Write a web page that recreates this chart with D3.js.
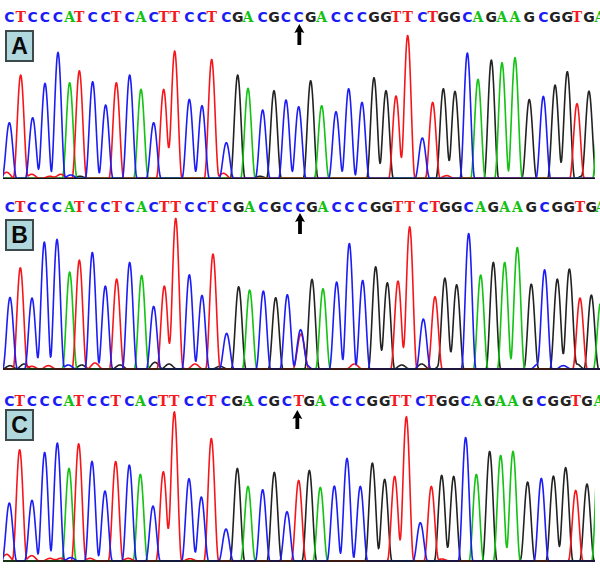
<!DOCTYPE html>
<html><head><meta charset="utf-8">
<script src="https://cdn.jsdelivr.net/npm/d3@7"></script>
<style>html,body{margin:0;padding:0;background:#fff}svg{display:block}</style>
</head><body><div id="chart"></div>
<script>
// Base calls, and apex position / apex signal read for each called peak.
const basesA = "CTCCCATCCTCACTTCCTCGACGCCGACCCGGTTCTGGCAGAAGCGGTGA";
const scansA = [28,62,98,135,174,209,238,278,317,349,389,423,461,491,524,568,606,635,679,713,744,788,822,858,896,932,965,1008,1046,1086,1122,1158,1188,1223,1267,1298,1330,1365,1402,1434,1474,1506,1545,1588,1630,1665,1702,1731,1767,1800];
const signalA = [167,310,182,285,378,287,323,290,220,287,310,267,167,267,382,237,218,357,107,310,270,205,263,235,215,293,218,200,269,228,302,263,247,429,121,228,269,261,376,297,355,347,362,232,246,276,320,224,260,300];

const basesB = "CTCCCATCCTCACTTCCTCGACGCCGACCCGGTTCTGGCAGAAGCGGTGA";
const scansB = [30,61,96,133,171,209,238,277,316,350,389,425,461,493,527,568,606,639,680,716,749,790,827,862,901,936,969,1010,1048,1088,1127,1162,1194,1229,1270,1305,1335,1370,1406,1442,1480,1514,1552,1594,1634,1672,1708,1740,1774,1802];
const signalB = [215,304,213,381,389,291,327,350,249,270,320,281,188,249,445,283,221,345,107,247,237,234,214,223,112,269,241,261,377,266,307,259,264,427,150,217,263,253,407,282,320,320,365,241,296,270,300,213,222,200];

const basesC = "CTCCCATCCTCACTTCCTCGACGCTGACCCGGTTCTGGCAGAAGCGGTGA";
const scansC = [28,59,96,134,172,207,236,276,315,347,388,421,459,490,523,567,604,634,678,712,744,788,823,861,896,928,961,1003,1041,1081,1117,1154,1184,1219,1261,1294,1325,1361,1397,1429,1469,1502,1539,1583,1624,1660,1697,1727,1761,1797];
const signalC = [174,334,182,326,354,278,352,299,210,299,288,260,165,268,448,247,192,368,96,278,224,214,266,148,242,272,221,225,308,224,292,245,254,431,115,224,257,254,371,260,329,317,329,231,248,251,280,212,231,370];

// Small uncalled peaks near the baseline (the B entry of 105 is the T under the mixed C/T base).
const minorBasesA = "TTTTCGTGTGGG";
const minorScansA = [20,95,150,182,212,240,670,780,1340,1580,1680,1750];
const minorSignalA = [18,12,6,12,10,6,15,6,8,6,12,8];
const minorBasesB = "GGTTCGTGGGTTGTCTGGGGCCG";
const minorScansB = [30,72,95,145,205,245,285,360,465,507,535,585,660,903,915,1063,1205,1265,1325,1590,1615,1690,1730];
const minorSignalB = [10,15,8,10,12,12,18,12,20,15,10,15,8,105,15,15,12,15,15,15,15,10,15];
const minorBasesC = "TTTTCTTTGTTGG";
const minorScansC = [20,95,150,182,212,270,385,570,1130,1230,1325,1575,1675];
const minorSignalC = [20,16,8,8,10,8,8,7,5,4,6,8,12];

const panelLetters = ["A","B","C"];
const arrowScans = [898,900,892];
const baseColors = {A:"#12c212",C:"#1c1cf5",G:"#222222",T:"#f5181c"};
const drawOrder = ["G","A","T","C"];

// Layout
const W = 600, H = 573, signalMax = 480, scanMax = 1800;
const layouts = [
  {base:178.3, textY:21.5, box:31,  arrowTop:24,  arrowBottom:45,  right:595, bases:basesA, scans:scansA, signal:signalA, mb:minorBasesA, ms:minorScansA, mv:minorSignalA},
  {base:369,   textY:211.5,box:220, arrowTop:213, arrowBottom:234, right:600, bases:basesB, scans:scansB, signal:signalB, mb:minorBasesB, ms:minorScansB, mv:minorSignalB},
  {base:561,   textY:405.5,box:410, arrowTop:410, arrowBottom:429, right:595, bases:basesC, scans:scansC, signal:signalC, mb:minorBasesC, ms:minorScansC, mv:minorSignalC}
];

const svg = d3.select("#chart").append("svg").attr("width",W).attr("height",H);
const defs = svg.append("defs");
defs.append("filter").attr("id","soft").attr("x","-2%").attr("y","-2%").attr("width","104%").attr("height","104%")
  .append("feGaussianBlur").attr("stdDeviation",0.3);

const x = d3.scaleLinear().domain([0,scanMax]).range([0,W]);
const halfBase = 22; // half the width of a peak's foot, in scan units
const samples = d3.range(0, scanMax + 1, 1.5);

layouts.forEach((p,i) => {
  const y = d3.scaleLinear().domain([0,signalMax]).range([p.base,p.base-160]);
  const g = svg.append("g");
  const clipId = "clip"+i;
  defs.append("clipPath").attr("id",clipId).append("rect")
    .attr("x",3).attr("y",p.base-170).attr("width",p.right-3).attr("height",172);

  const peaks = d3.range(p.bases.length).map(k => ({b:p.bases[k],s:p.scans[k],v:p.signal[k]}))
    .concat(d3.range(p.mb.length).map(k => ({b:p.mb[k],s:p.ms[k],v:p.mv[k],minor:true})));

  // One trace per base: a bell-shaped peak with a closed foot at each read apex
  const line = d3.line().x(d => x(d[0])).y(d => y(d[1])).curve(d3.curveLinear);
  const traces = g.append("g").attr("clip-path",`url(#${clipId})`).append("g").attr("filter","url(#soft)");
  drawOrder.forEach(b => {
    const own = peaks.filter(d => d.b === b);
    const pts = samples.map(s => {
      let t = 0;
      own.forEach(d => {
        const u = Math.abs(s-d.s)/(d.minor ? halfBase*1.1 : halfBase);
        if (u < 1) t += d.v*Math.pow(Math.cos(Math.PI/2*u),2);
      });
      return [s,t];
    });
    traces.append("path").attr("d",line(pts)).attr("fill","none")
      .attr("stroke",baseColors[b]).attr("stroke-width",1.6).attr("stroke-linejoin","round");
  });

  // Baseline
  g.append("line").attr("x1",3).attr("x2",p.right).attr("y1",p.base).attr("y2",p.base)
    .attr("stroke","#111").attr("stroke-width",1.3);

  // Base calls
  g.append("g").selectAll("text").data(peaks.filter(d => !d.minor)).join("text")
    .attr("x",d => x(d.s)).attr("y",p.textY).attr("text-anchor","middle")
    .attr("font-family",d => (d.b==="A"||d.b==="T") ? "'DejaVu Serif'" : "'DejaVu Sans'")
    .attr("font-weight","bold").attr("font-size",14)
    .attr("fill",d => baseColors[d.b]).text(d => d.b);

  // Panel letter box
  g.append("rect").attr("x",6).attr("y",p.box).attr("width",27).attr("height",30)
    .attr("fill","#b1d8dc").attr("stroke","#3c4a4c").attr("stroke-width",2);
  g.append("text").attr("x",19.5).attr("y",p.box+23).attr("text-anchor","middle")
    .attr("font-family","'Liberation Sans'").attr("font-size",23).attr("font-weight","bold")
    .attr("fill","#0a0a0a").text(panelLetters[i]);

  // Arrow marking the variant base
  const ax = x(arrowScans[i]);
  const ap = d3.path();
  ap.moveTo(ax,p.arrowTop); ap.lineTo(ax+5,p.arrowTop+9); ap.lineTo(ax+1.9,p.arrowTop+8);
  ap.lineTo(ax+1.9,p.arrowBottom); ap.lineTo(ax-1.9,p.arrowBottom); ap.lineTo(ax-1.9,p.arrowTop+8);
  ap.lineTo(ax-5,p.arrowTop+9); ap.closePath();
  g.append("path").attr("d",ap.toString()).attr("fill","#000");
});
</script></body></html>
